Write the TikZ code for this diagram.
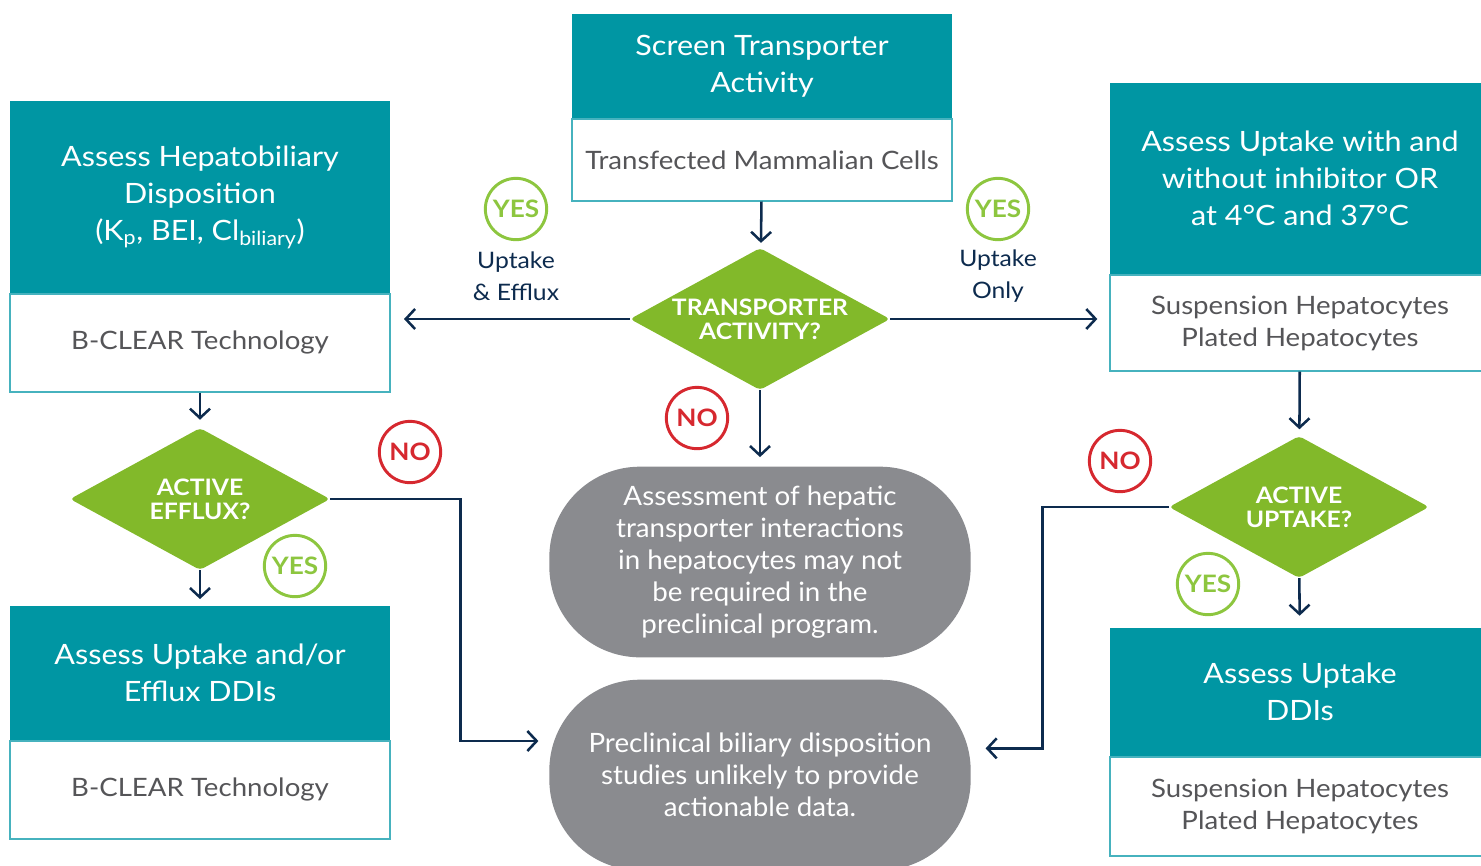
\documentclass[tikz,border=0pt]{standalone}
\usepackage{fontspec}
\setmainfont{Lato}[FakeStretch=1.09]
\newfontfamily\pillfont[FakeStretch=1.04]{Lato}
\usetikzlibrary{positioning,arrows.meta,shapes.geometric}
\definecolor{tealhead}{RGB}{0,150,163}
\definecolor{tealline}{RGB}{70,178,190}
\definecolor{leafgreen}{RGB}{130,185,42}
\definecolor{yesgreen}{RGB}{141,198,63}
\definecolor{nored}{RGB}{214,40,47}
\definecolor{navy}{RGB}{13,43,78}
\definecolor{pillgray}{RGB}{138,139,143}
\definecolor{bodytext}{RGB}{85,85,88}

\begin{document}
\begin{tikzpicture}[
    x=0.75pt, y=-0.75pt,
    node distance=0pt,
    head/.style={
        rectangle,
        fill=tealhead,
        text=white,
        minimum width=285pt,
        inner sep=0pt,
        align=center,
        font=\fontsize{21}{27.75}\selectfont
    },
    body/.style={
        rectangle,
        draw=tealline,
        line width=1pt,
        fill=white,
        text=bodytext,
        minimum width=285pt,
        inner sep=0pt,
        align=center,
        font=\fontsize{19}{24}\selectfont
    },
    decision/.style={
        diamond,
        shape aspect=1.83,
        fill=leafgreen,
        text=white,
        minimum width=195pt,
        minimum height=106.5pt,
        inner sep=-14pt,
        rounded corners=3pt,
        align=center,
        font=\bfseries\fontsize{17}{18}\selectfont
    },
    outcome/.style={
        rectangle,
        rounded corners=68pt,
        fill=pillgray,
        text=white,
        minimum width=316pt,
        minimum height=143pt,
        align=center,
        font=\pillfont\fontsize{20}{24}\selectfont
    },
    yesmark/.style={
        circle,
        draw=yesgreen,
        line width=2.2pt,
        fill=white,
        text=yesgreen,
        minimum size=46pt,
        inner sep=0pt,
        font=\bfseries\fontsize{18}{18}\selectfont
    },
    nomark/.style={yesmark, draw=nored, text=nored},
    note/.style={
        text=navy,
        align=center,
        font=\fontsize{17}{24}\selectfont
    },
    line/.style={
        -{Straight Barb[length=7pt,width=15pt]},
        draw=navy,
        line width=1.9pt
    }
]
\useasboundingbox (0,0) rectangle (1481,865);

\node[head,minimum height=78pt] (screen) at (762,66) {Screen Transporter\\Activity};
\node[body,minimum height=61.5pt,below=of screen] (cells) {Transfected Mammalian Cells};

\node[head,minimum height=144pt] (hepato) at (200,197) {Assess Hepatobiliary\\Disposition\\(K\textsubscript{p}, BEI, Cl\textsubscript{biliary})};
\node[body,minimum height=73.5pt,below=of hepato] (bclear) {B-CLEAR Technology};

\node[head,minimum height=143.25pt] (inhibitor) at (1300,178.5) {Assess Uptake with and\\without inhibitor OR\\at 4°C and 37°C};
\node[body,minimum height=72pt,below=of inhibitor] (hepatocytes) {Suspension Hepatocytes\\Plated Hepatocytes};

\node[decision] (activity) at (760,319) {TRANSPORTER\\ACTIVITY?};
\node[decision] (efflux) at (200,499) {ACTIVE\\EFFLUX?};
\node[decision] (uptake) at (1299,507) {ACTIVE\\UPTAKE?};

\node[head,minimum height=100.5pt] (effluxddi) at (200,673) {Assess Uptake and/or\\Efflux DDIs};
\node[body,minimum height=73.5pt,below=of effluxddi] (bclearddi) {B-CLEAR Technology};

\node[head,minimum height=96pt] (uptakeddi) at (1300,692) {Assess Uptake\\DDIs};
\node[body,minimum height=74.25pt,below=of uptakeddi] (hepatocytesddi) {Suspension Hepatocytes\\Plated Hepatocytes};

\node[outcome] (notneeded) at (760,562) {Assessment of hepatic\\transporter interactions\\in hepatocytes may not\\be required in the\\preclinical program.};
\node[outcome] (unlikely) at (760,775) {Preclinical biliary disposition\\studies unlikely to provide\\actionable data.};

\draw[line,shorten >=4pt] (cells) -- (activity);
\draw[line,shorten >=10pt] (activity) -- (bclear.east |- activity);
\draw[line,shorten >=9pt] (activity) -- (hepatocytes.west |- activity);
\draw[line,shorten >=7pt] (activity) -- (notneeded);
\draw[line,shorten >=6pt] (bclear) -- (efflux);
\draw[line,shorten >=5pt] (efflux) -- (effluxddi);
\draw[line,shorten >=5pt] (hepatocytes) -- (uptake);
\draw[line,shorten >=9pt] (uptake) -- (uptakeddi);
\draw[line,shorten >=8pt] (efflux.east) -- ++(130,0) |- ([yshift=25.5pt]unlikely.west);
\draw[line,shorten >=11pt] (uptake.west) -- ++(-126,0) |- ([yshift=20pt]unlikely.east);

\node[yesmark] (yesboth) at (516,209) {YES};
\node[note] (bothnote) at (516,276) {Uptake\\\& Efflux};
\node[yesmark] (yesonly) at (998,209) {YES};
\node[note] (onlynote) at (998,276) {Uptake\\Only};
\node[nomark] (noactivity) at (697,418) {NO};
\node[nomark] (noefflux) at (410,452) {NO};
\node[yesmark] (yesefflux) at (295,566) {YES};
\node[nomark] (nouptake) at (1120,461) {NO};
\node[yesmark] (yesuptake) at (1208,584) {YES};

\end{tikzpicture}
\end{document}
